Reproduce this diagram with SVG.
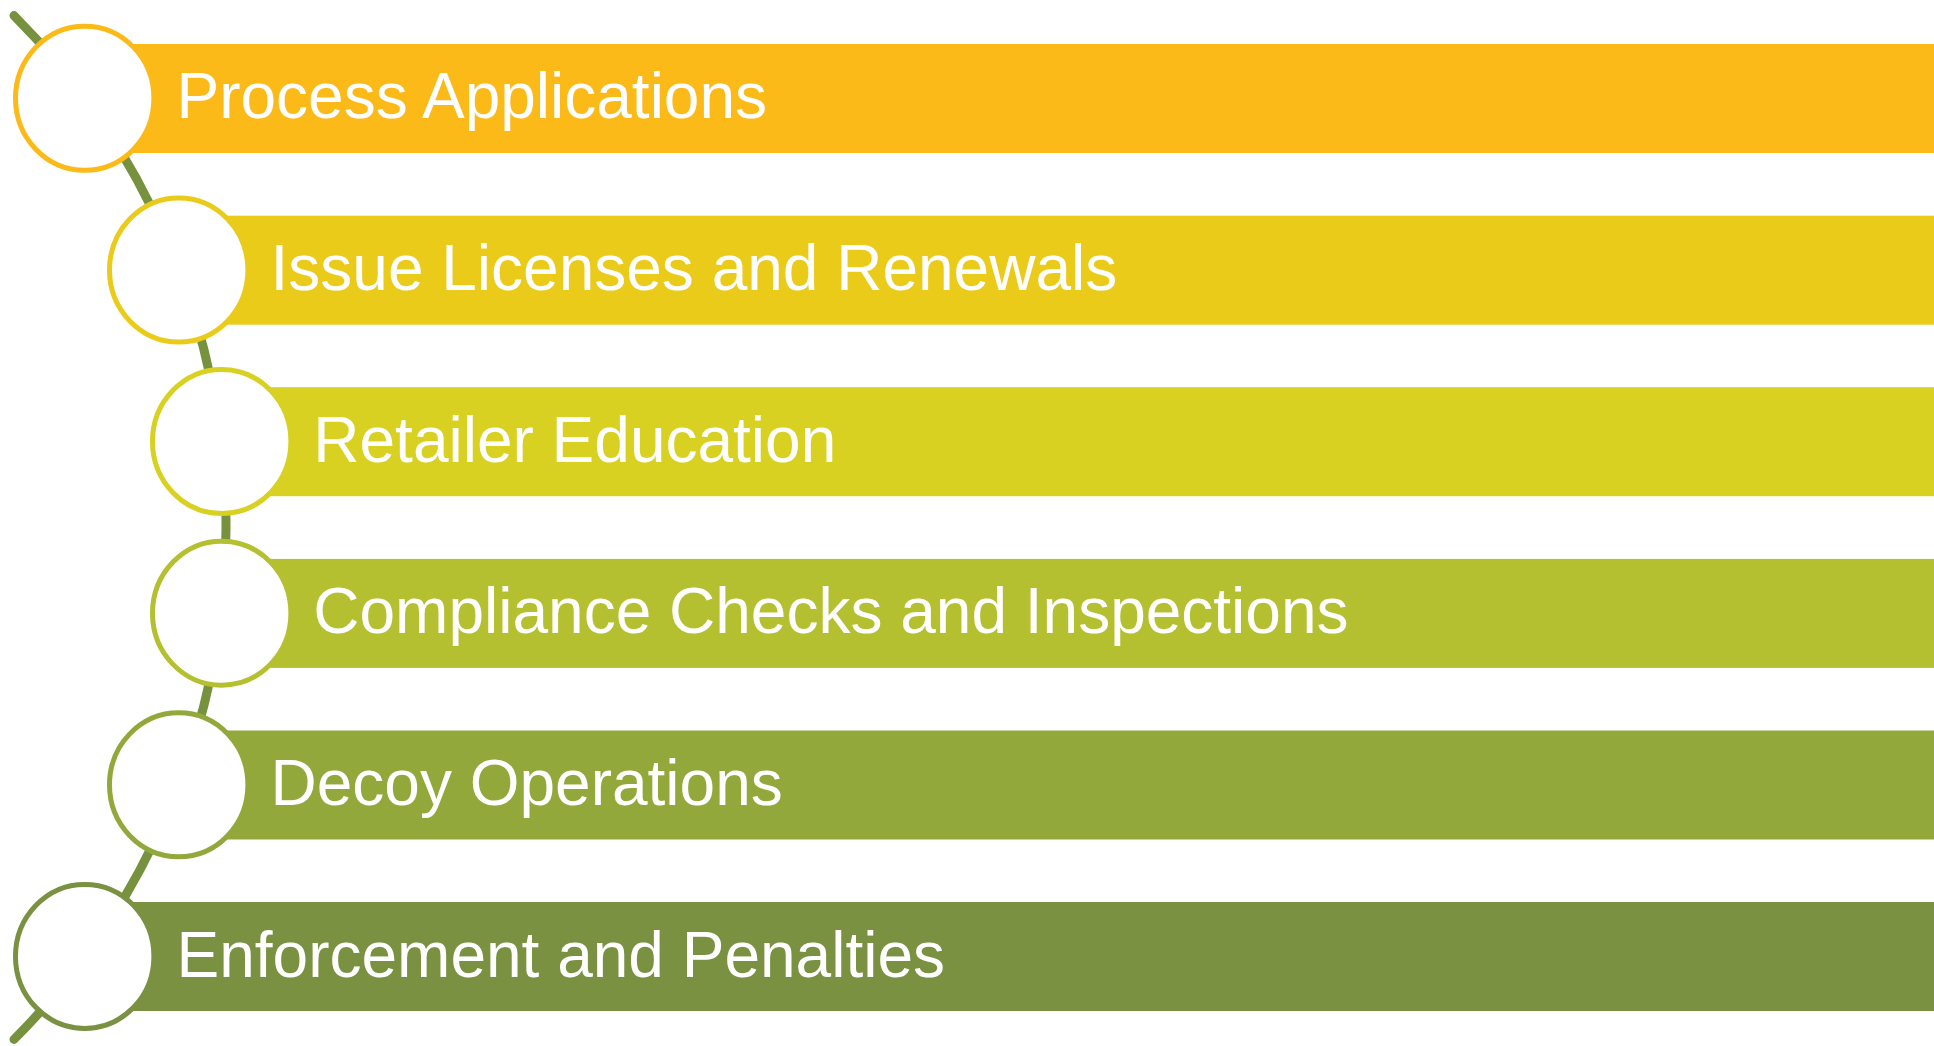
<svg xmlns="http://www.w3.org/2000/svg" width="1934" height="1046" viewBox="0 0 1934 1046">
<style>
.band{stroke:none}
.ring{fill:#FFFFFF;stroke-width:5}
.lbl{font-family:"Liberation Sans",Arial,sans-serif;font-size:64px;fill:#FFFFFF}
.conn{fill:none;stroke:#77923F;stroke-width:9;stroke-linecap:round}
</style>
<rect width="1934" height="1046" fill="#FFFFFF"/>
<g id="connectors">
<path class="conn" d="M 14 15.6 A 724 724 0 0 1 14 1039.4"/>
</g>
<g id="node1">
<rect class="band" x="85" y="44" width="1849" height="109" fill="#FBBA18"/>
<ellipse class="ring" cx="84.7" cy="98.3" rx="69.2" ry="72" stroke="#FBBA18"/>
<text class="lbl" x="176.5" y="118.2">Process Applications</text>
</g>
<g id="node2">
<rect class="band" x="178.5" y="215.7" width="1756" height="109" fill="#EBCB1A"/>
<ellipse class="ring" cx="178.7" cy="270" rx="69.2" ry="72" stroke="#EBCB1A"/>
<text class="lbl" x="270.5" y="290">Issue Licenses and Renewals</text>
</g>
<g id="node3">
<rect class="band" x="221.5" y="387.2" width="1713" height="109" fill="#D8D121"/>
<ellipse class="ring" cx="221.7" cy="441.5" rx="69.2" ry="72" stroke="#D8D121"/>
<text class="lbl" x="313.3" y="461.7">Retailer Education</text>
</g>
<g id="node4">
<rect class="band" x="221.5" y="558.9" width="1713" height="109" fill="#B5C030"/>
<ellipse class="ring" cx="221.7" cy="613.2" rx="69.2" ry="72" stroke="#B5C030"/>
<text class="lbl" x="313.3" y="633.4">Compliance Checks and Inspections</text>
</g>
<g id="node5">
<rect class="band" x="178.5" y="730.5" width="1756" height="109" fill="#93A83A"/>
<ellipse class="ring" cx="178.7" cy="784.8" rx="69.2" ry="72" stroke="#93A83A"/>
<text class="lbl" x="270.5" y="805">Decoy Operations</text>
</g>
<g id="node6">
<rect class="band" x="85" y="902" width="1849" height="109" fill="#7A9142"/>
<ellipse class="ring" cx="84.7" cy="956.4" rx="69.2" ry="72" stroke="#7A9142"/>
<text class="lbl" x="176.5" y="976.5">Enforcement and Penalties</text>
</g>
</svg>
